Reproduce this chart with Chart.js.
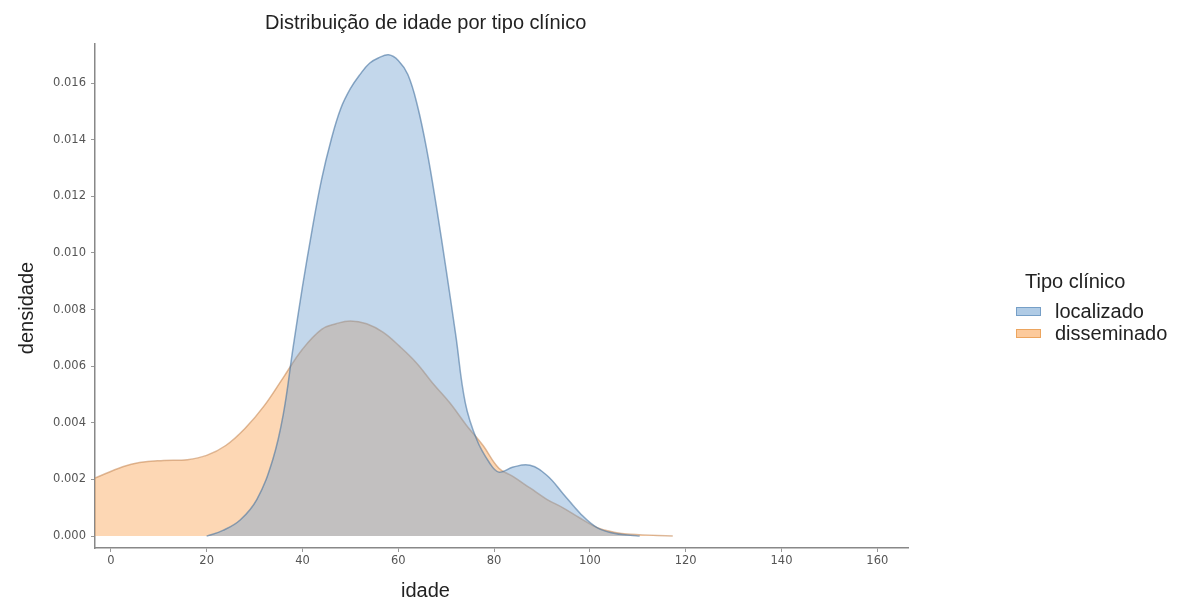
<!DOCTYPE html>
<html>
<head>
<meta charset="utf-8">
<script src="https://cdn.jsdelivr.net/npm/chart.js@4.4.1/dist/chart.umd.min.js"></script>
<style>
  body { margin: 0; background: #fff; }
  #wrap { position: relative; width: 1180px; height: 602px; }
  canvas { position: absolute; left: 0; top: 0; }
  .txt { position: absolute; font-family: "Liberation Sans", Arial, sans-serif; color: #222; line-height: 20px; font-size: 20px; white-space: nowrap; }
  .sw { position: absolute; width: 23px; height: 7px; }
</style>
</head>
<body>
<div id="wrap">
  <canvas id="kde" width="1180" height="602"></canvas>
  <div class="txt" style="left:265px; top:12px;">Distribuição de idade por tipo clínico</div>
  <div class="txt" style="left:401px; top:580px;">idade</div>
  <div class="txt" style="left:-24px; top:298px; transform: rotate(-90deg); transform-origin: 50% 50%; width:100px; text-align:center;">densidade</div>
  <div class="txt" style="left:1025px; top:271px;">Tipo clínico</div>
  <div class="sw" style="left:1016px; top:307px; background:rgba(112,160,207,0.55); border:1px solid rgba(80,130,180,0.6);"></div>
  <div class="txt" style="left:1055px; top:301px;">localizado</div>
  <div class="sw" style="left:1016px; top:329px; background:rgba(249,138,35,0.45); border:1px solid rgba(230,150,70,0.7);"></div>
  <div class="txt" style="left:1055px; top:323px;">disseminado</div>
</div>
<script>
// ages (x) and densities (y)
const locAge = [20, 23.4, 27, 30.5, 33.8, 36, 38, 40, 42, 44, 46, 48, 50, 52, 54, 56, 58, 60, 62, 64, 66, 68, 70, 72, 74, 76.4, 79, 81, 84, 87.5, 91, 94.4, 98, 101.5, 105, 108.4, 110.4];
const locDens = [0, 0.0002, 0.00057, 0.0013, 0.0027, 0.0043, 0.0066, 0.0088, 0.0108, 0.0126, 0.014, 0.0151, 0.0158, 0.0163, 0.0167, 0.0169, 0.0170, 0.0168, 0.0163, 0.0152, 0.0136, 0.0116, 0.0094, 0.0071, 0.0047, 0.0034, 0.0026, 0.00226, 0.00244, 0.0025, 0.00215, 0.0015, 0.0008, 0.0003, 0.0001, 0.00003, 0];

const disAge = [-3.3, 2.5, 6, 11, 16, 20, 24, 28, 32, 36, 40, 44, 47, 50, 53.4, 56.8, 60.3, 63.9, 67.2, 70.8, 74.3, 77.7, 81, 84, 87.5, 91, 94.4, 98, 101.5, 105, 108.4, 117.3];
const disDens = [0.00205, 0.00245, 0.0026, 0.00267, 0.0027, 0.00285, 0.0032, 0.0038, 0.0046, 0.0056, 0.0066, 0.0073, 0.0075, 0.0076, 0.0075, 0.0072, 0.0067, 0.0061, 0.0054, 0.0047, 0.0039, 0.0032, 0.0024, 0.0021, 0.0017, 0.0013, 0.001, 0.00063, 0.0003, 0.00014, 0.00007, 0];

const xTicks = [0, 20, 40, 60, 80, 100, 120, 140, 160];
const yTicks = [0, 0.002, 0.004, 0.006, 0.008, 0.010, 0.012, 0.014, 0.016];

const toPoints = (xs, ys) => xs.map((x, i) => ({ x: x, y: ys[i] }));

const tickFont = { family: "DejaVu Sans", size: 11.5 };

new Chart(document.getElementById("kde").getContext("2d"), {
  type: "line",
  data: {
    datasets: [
      {
        label: "localizado",
        data: toPoints(locAge, locDens),
        fill: "origin",
        backgroundColor: "rgba(112,160,207,0.42)",
        borderColor: "rgba(70,115,160,0.6)",
        borderWidth: 1.5,
        pointRadius: 0,
        tension: 0.4,
      },
      {
        label: "disseminado",
        data: toPoints(disAge, disDens),
        fill: "origin",
        backgroundColor: "rgba(249,140,40,0.35)",
        borderColor: "rgba(200,140,90,0.6)",
        borderWidth: 1.5,
        pointRadius: 0,
        tension: 0.4,
      },
    ],
  },
  options: {
    responsive: false,
    animation: false,
    layout: { padding: { top: 44, right: 272, left: 0, bottom: 0 } },
    plugins: {
      legend: { display: false },
      tooltip: { enabled: false },
    },
    scales: {
      x: {
        type: "linear",
        min: -3.3,
        max: 166.4,
        afterBuildTicks: (scale) => { scale.ticks = xTicks.map((v) => ({ value: v })); },
        afterFit: (scale) => { scale.height = 54; },
        ticks: { font: tickFont, color: "#555", padding: 2, maxRotation: 0 },
        grid: { drawOnChartArea: false, drawTicks: true, tickLength: 4, color: "#999" },
        border: { display: true, color: "#888", width: 1.5 },
      },
      y: {
        min: -0.00042,
        max: 0.01738,
        afterBuildTicks: (scale) => { scale.ticks = yTicks.map((v) => ({ value: v })); },
        afterFit: (scale) => { scale.width = 95; },
        ticks: { font: tickFont, color: "#555", padding: 5, callback: (v) => v.toFixed(3) },
        grid: { drawOnChartArea: false, drawTicks: true, tickLength: 4, color: "#999" },
        border: { display: true, color: "#888", width: 1.5 },
      },
    },
  },
});
</script>
</body>
</html>
